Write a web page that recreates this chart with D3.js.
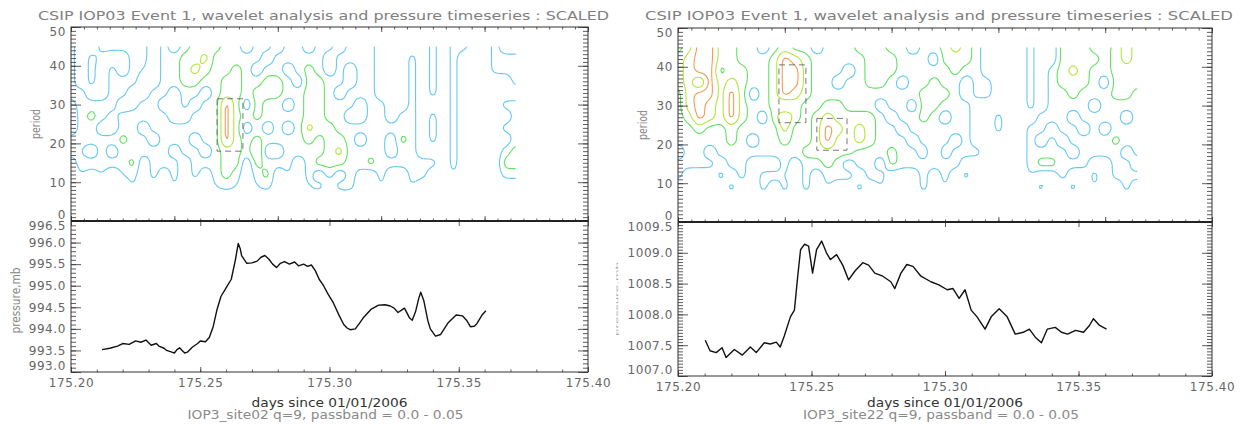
<!DOCTYPE html>
<html>
<head>
<meta charset="utf-8">
<script src="https://cdn.jsdelivr.net/npm/d3@7"></script>
<style>
  body { margin: 0; background: #fff; }
</style>
</head>
<body>
<div id="chart"></div>
<script>
// ---- wavelet grid axes ----
var waveTimes = [175.200,175.204,175.208,175.212,175.216,175.220,175.224,175.228,175.232,175.236,
  175.240,175.244,175.248,175.252,175.256,175.260,175.264,175.268,175.272,175.276,
  175.280,175.284,175.288,175.292,175.296,175.300,175.304,175.308,175.312,175.316,
  175.320,175.324,175.328,175.332,175.336,175.340,175.344,175.348,175.352,175.356,
  175.360,175.364,175.368,175.372,175.376];
var wavePeriods = [48,45,42,39,36,33,30,27,24,21,18,15,12,9,6];
var powerLevels = [2, 4, 6, 8];

// wavelet power, one string per time step (periods 48 -> 6), site02
var powerSite02 = [
  "333333100331000","000003333323200","003330353303100","331000330333210","330333310303000",
  "330033033533200","333330133335320","333200330330000","000003333033310","333333033333000",
  "003330003303320","335553303330000","355753033033300","557530333303000","553333333333320",
  "333355999955530","333555555555320","003333030330000","333035553575320","330355330303530",
  "003355333303000","333033030333200","333303333330000","003555557533320","333355555335030",
  "330033335555300","003330333575030","333003303333330","333333003033100","333333333335000",
  "000000333333320","000000003003000","000000033533000","003333333333320","000000000003300",
  "333333033303000","000000000000000","333333333333200","330000000000000","000000000000000",
  "000000000000000","333300000000000","003300303035300","003330333355300","003330333355300"
];
// wavelet power, site22
var powerSite22 = [
  "335553333303300","557777753333000","999939995333030","999999773303000","555355553330300",
  "555579995533030","333555553333300","333330333030000","303333303330330","335555553330300",
  "559999397533230","537997553330000","335555333353330","303333355553000","333333579955320",
  "033303557553300","333033355550300","553333357733030","555553355533300","355553033330320",
  "035533303355000","333303330333030","003333033033000","333335553303330","330355533353000",
  "555335303303320","775533333033000","555300333330300","333333000030000","000033000000000",
  "000000033000000","000000000000000","000000000000000","333333303333200","000000033035030",
  "000333330335000","555553333033300","555755303303030","555553330333000","335333033330320",
  "033303330330000","555555333533300","777555303303230","555553333330300","555553333330300"
];

// dashed boxes: [t0, t1, period0, period1]
var boxesSite02 = [[175.2565, 175.2665, 18.0, 31.5]];
var boxesSite22 = [[175.2378, 175.2479, 25.6, 40.5], [175.2520, 175.2633, 18.5, 26.7]];

// ---- pressure time series ----
var timeSite02 = [175.212,175.215,175.218,175.220,175.2225,175.225,175.227,175.229,175.231,175.233,
  175.234,175.236,175.237,175.239,175.240,175.241,175.242,175.243,175.244,175.245,
  175.247,175.249,175.250,175.252,175.2535,175.255,175.2565,175.258,175.260,175.262,
  175.2636,175.2647,175.2655,175.266,175.268,175.270,175.272,175.2735,175.275,175.2765,
  175.278,175.2795,175.281,175.2826,175.2845,175.2865,175.288,175.290,175.2915,175.293,
  175.2945,175.296,175.2977,175.2995,175.3015,175.3038,175.3055,175.3068,175.308,175.310,
  175.3115,175.313,175.316,175.319,175.3215,175.3235,175.325,175.3265,175.328,175.329,
  175.331,175.332,175.3333,175.3345,175.3353,175.3365,175.338,175.339,175.341,175.343,
  175.346,175.349,175.3515,175.353,175.3545,175.356,175.357,175.359,175.3605];
var presSite02 = [993.52,993.55,993.60,993.66,993.64,993.72,993.69,993.74,993.62,993.66,
  993.60,993.55,993.50,993.46,993.44,993.52,993.56,993.50,993.44,993.46,
  993.58,993.66,993.72,993.70,993.80,994.05,994.45,994.75,994.95,995.15,
  995.60,995.98,995.85,995.70,995.52,995.53,995.57,995.66,995.70,995.62,
  995.50,995.42,995.52,995.56,995.50,995.55,995.46,995.50,995.45,995.48,
  995.35,995.15,995.00,994.80,994.60,994.30,994.10,994.02,993.98,994.00,
  994.12,994.25,994.45,994.55,994.56,994.53,994.48,994.38,994.44,994.48,
  994.25,994.20,994.40,994.70,994.85,994.65,994.20,994.00,993.83,993.87,
  994.15,994.32,994.30,994.20,994.05,994.06,994.12,994.32,994.42];

var timeSite22 = [175.2102,175.2120,175.2143,175.2165,175.2180,175.2211,175.2241,175.2271,175.2293,175.2323,
  175.2346,175.2368,175.2383,175.2398,175.2421,175.2436,175.2448,175.2459,175.2474,175.2489,
  175.2504,175.2519,175.2538,175.2556,175.2571,175.2594,175.2617,175.2639,175.2662,175.2692,
  175.2714,175.2737,175.2767,175.2797,175.2812,175.2835,175.2857,175.2880,175.2910,175.2947,
  175.2977,175.3008,175.3030,175.3053,175.3075,175.3098,175.3120,175.3150,175.3173,175.3203,
  175.3233,175.3263,175.3293,175.3316,175.3338,175.3361,175.3383,175.3413,175.3436,175.3459,
  175.3489,175.3519,175.3541,175.3556,175.3579,175.3605];
var presSite22 = [1007.58,1007.41,1007.38,1007.46,1007.30,1007.43,1007.34,1007.47,1007.38,1007.54,
  1007.52,1007.55,1007.47,1007.65,1007.96,1008.07,1008.60,1009.05,1009.14,1009.11,
  1008.67,1009.05,1009.19,1009.00,1008.89,1008.97,1008.80,1008.56,1008.70,1008.84,
  1008.80,1008.67,1008.62,1008.53,1008.42,1008.67,1008.81,1008.78,1008.62,1008.53,
  1008.48,1008.40,1008.42,1008.26,1008.40,1008.07,1007.96,1007.76,1007.96,1008.09,
  1007.96,1007.68,1007.71,1007.76,1007.63,1007.54,1007.76,1007.79,1007.71,1007.68,
  1007.74,1007.71,1007.82,1007.93,1007.82,1007.76];

// ---- ticks and labels ----
var dayTicks = [175.20, 175.25, 175.30, 175.35, 175.40];
var waveDayTicks = [175.20, 175.24, 175.28, 175.32, 175.36, 175.40];
var periodTicks = [0, 10, 20, 30, 40, 50];
var presTicksSite02 = [993.0, 993.5, 994.0, 994.5, 995.0, 995.5, 996.0, 996.5];
var presTicksSite22 = [1007.0, 1007.5, 1008.0, 1008.5, 1009.0, 1009.5];
var titleText = "CSIP IOP03 Event 1, wavelet analysis and pressure timeseries : SCALED";
var subSite02 = "IOP3_site02 q=9, passband = 0.0 - 0.05";
var subSite22 = "IOP3_site22 q=9, passband = 0.0 - 0.05";

// ---- layout ----
var FONT = "DejaVu Sans, Verdana, sans-serif";
var levelColors = ['#66c9f3', '#62e262', '#b5e63c', '#f59b55'];
var waveEnd = 175.372, waveTop = 45;
var up = 4;   // grid refinement before smoothing

var svg = d3.select('#chart').append('svg')
    .attr('width', 1243)
    .attr('height', 430)
    .style('font-family', FONT);

var panels = [
  {x0: 71, x1: 588, yTop: 27, yMid: 221, yBot: 372, power: powerSite02, boxes: boxesSite02,
   t: timeSite02, p: presSite02, pTicks: presTicksSite02, sub: subSite02, faintLabel: false},
  {x0: 678, x1: 1212, yTop: 28, yMid: 222, yBot: 376, power: powerSite22, boxes: boxesSite22,
   t: timeSite22, p: presSite22, pTicks: presTicksSite22, sub: subSite22, faintLabel: true}
];

function styleAxis(a) {
  a.select('.domain').remove();
  a.selectAll('line').attr('stroke', '#333').attr('stroke-width', 0.8);
  a.selectAll('text').attr('fill', '#666').attr('font-size', 12).attr('letter-spacing', 0.6)
      .attr('font-family', FONT);
  return a;
}
// end labels of an axis sit inside the frame, as in the original plot
function endDy(ext) {
  return function (d) { return d === ext[0] ? '-0.22em' : (d === ext[1] ? '0.7em' : '0.32em'); };
}

panels.forEach(function (P, k) {
  var g = svg.append('g');
  var x = d3.scaleLinear().domain([175.2, 175.4]).range([P.x0, P.x1]);
  var yW = d3.scaleLinear().domain([0, 50]).range([P.yMid, P.yTop]);
  var pExt = d3.extent(P.pTicks);
  var yP = d3.scaleLinear().domain(pExt).range([P.yBot, P.yMid]);

  svg.append('clipPath').attr('id', 'wclip' + k).append('rect')
      .attr('x', x(175.2)).attr('y', yW(waveTop))
      .attr('width', x(waveEnd) - x(175.2)).attr('height', yW(0) - yW(waveTop));
  svg.append('clipPath').attr('id', 'pclip' + k).append('rect')
      .attr('x', P.x0).attr('y', P.yMid)
      .attr('width', P.x1 - P.x0).attr('height', P.yBot - P.yMid);

  // contours of the power grid (refined and lightly smoothed by d3.blur2)
  var n = P.power.length, m = wavePeriods.length;
  var N = n * up, M = m * up;
  var fine = new Float64Array(N * M);
  for (var j = 0; j < M; j++)
    for (var i = 0; i < N; i++) fine[j * N + i] = +P.power[Math.floor(i / up)][Math.floor(j / up)];
  if (d3.blur2) d3.blur2({data: fine, width: N}, 1);
  var cs = d3.contours().size([N, M]).thresholds(powerLevels)(Array.from(fine));
  var tx = d3.scaleLinear().domain([0.5 * up, (n - 0.5) * up]).range([x(waveTimes[0]), x(waveTimes[n - 1])]);
  var ty = d3.scaleLinear().domain([0.5 * up, (m - 0.5) * up]).range([yW(wavePeriods[0]), yW(wavePeriods[m - 1])]);
  var ringLine = d3.line().curve(d3.curveBasisClosed);

  g.append('g').attr('clip-path', 'url(#wclip' + k + ')')
    .selectAll('path').data(cs).enter().append('path')
      .attr('d', function (c) {
        return c.coordinates.map(function (poly) {
          return poly.map(function (ring) {
            return ringLine(ring.slice(0, -1).map(function (pt) { return [tx(pt[0]), ty(pt[1])]; }));
          }).join('');
        }).join('');
      })
      .attr('fill', 'none')
      .attr('stroke', function (c, i) { return levelColors[i]; })
      .attr('stroke-width', 1.1);

  // dashed boxes
  g.selectAll('rect.box').data(P.boxes).enter().append('rect')
      .attr('class', 'box')
      .attr('x', function (d) { return x(d[0]); })
      .attr('y', function (d) { return yW(d[3]); })
      .attr('width', function (d) { return x(d[1]) - x(d[0]); })
      .attr('height', function (d) { return yW(d[2]) - yW(d[3]); })
      .attr('fill', 'none').attr('stroke', '#555').attr('stroke-width', 0.8)
      .attr('stroke-dasharray', '6,4');

  // pressure line
  var pl = d3.line().x(function (d, i) { return x(P.t[i]); }).y(function (d) { return yP(d); });
  g.append('path').datum(P.p)
      .attr('clip-path', 'url(#pclip' + k + ')')
      .attr('d', pl).attr('fill', 'none').attr('stroke', '#111').attr('stroke-width', 1.4)
      .attr('stroke-linejoin', 'round');

  // ---- axes, top plot ----
  var ya = g.append('g').attr('transform', 'translate(' + P.x0 + ',0)')
      .call(d3.axisLeft(yW).tickValues(periodTicks).tickSize(-10).tickPadding(5).tickFormat(d3.format('d')));
  styleAxis(ya);
  ya.selectAll('text').attr('dy', endDy([0, 50]));
  styleAxis(g.append('g').attr('transform', 'translate(' + P.x0 + ',0)')
      .call(d3.axisLeft(yW).tickValues(yW.ticks(50)).tickSize(-5).tickFormat('')));
  styleAxis(g.append('g').attr('transform', 'translate(' + P.x1 + ',0)')
      .call(d3.axisRight(yW).tickValues(periodTicks).tickSize(-10).tickFormat('')));
  styleAxis(g.append('g').attr('transform', 'translate(' + P.x1 + ',0)')
      .call(d3.axisRight(yW).tickValues(yW.ticks(50)).tickSize(-5).tickFormat('')));
  [[P.yTop, d3.axisTop], [P.yMid, d3.axisBottom]].forEach(function (s) {
    styleAxis(g.append('g').attr('transform', 'translate(0,' + s[0] + ')')
        .call(s[1](x).tickValues(waveDayTicks).tickSize(-5).tickFormat('')));
    styleAxis(g.append('g').attr('transform', 'translate(0,' + s[0] + ')')
        .call(s[1](x).tickValues(x.ticks(40)).tickSize(-2.5).tickFormat('')));
  });

  // ---- axes, bottom plot ----
  var pa = g.append('g').attr('transform', 'translate(' + P.x0 + ',0)')
      .call(d3.axisLeft(yP).tickValues(P.pTicks).tickSize(-10).tickPadding(5).tickFormat(d3.format('.1f')));
  styleAxis(pa);
  pa.selectAll('text').attr('dy', endDy(pExt));
  styleAxis(g.append('g').attr('transform', 'translate(' + P.x0 + ',0)')
      .call(d3.axisLeft(yP).tickValues(yP.ticks(40)).tickSize(-5).tickFormat('')));
  styleAxis(g.append('g').attr('transform', 'translate(' + P.x1 + ',0)')
      .call(d3.axisRight(yP).tickValues(P.pTicks).tickSize(-10).tickFormat('')));
  styleAxis(g.append('g').attr('transform', 'translate(' + P.x1 + ',0)')
      .call(d3.axisRight(yP).tickValues(yP.ticks(40)).tickSize(-5).tickFormat('')));
  styleAxis(g.append('g').attr('transform', 'translate(0,' + P.yBot + ')')
      .call(d3.axisBottom(x).tickValues(dayTicks).tickSize(-5).tickPadding(6).tickFormat(d3.format('.2f'))));
  styleAxis(g.append('g').attr('transform', 'translate(0,' + P.yBot + ')')
      .call(d3.axisBottom(x).tickValues(x.ticks(20)).tickSize(-2.5).tickFormat('')));
  styleAxis(g.append('g').attr('transform', 'translate(0,' + P.yMid + ')')
      .call(d3.axisTop(x).tickValues(dayTicks).tickSize(-5).tickFormat('')));

  // frames
  g.append('rect').attr('x', P.x0).attr('y', P.yTop).attr('width', P.x1 - P.x0).attr('height', P.yBot - P.yTop)
      .attr('fill', 'none').attr('stroke', '#333').attr('stroke-width', 1);
  g.append('line').attr('x1', P.x0).attr('x2', P.x1).attr('y1', P.yMid).attr('y2', P.yMid)
      .attr('stroke', '#222').attr('stroke-width', 2);

  // texts
  g.append('text').attr('x', P.x0 - 33).attr('y', 20)
      .attr('textLength', P.x1 - P.x0 + 54).attr('lengthAdjust', 'spacingAndGlyphs')
      .attr('font-size', 13).attr('fill', '#808080').text(titleText);
  g.append('text').attr('transform', 'translate(' + (P.x0 - 31) + ',' + yW(25) + ') rotate(-90)')
      .attr('text-anchor', 'middle').attr('font-size', 12).attr('fill', '#888')
      .attr('textLength', 30).attr('lengthAdjust', 'spacingAndGlyphs').text('period');
  if (!P.faintLabel) {
    g.append('text').attr('transform', 'translate(' + (P.x0 - 51) + ',' + ((P.yMid + P.yBot) / 2 + 4) + ') rotate(-90)')
        .attr('text-anchor', 'middle').attr('font-size', 12).attr('fill', '#888')
        .attr('textLength', 66).attr('lengthAdjust', 'spacingAndGlyphs').text('pressure,mb');
  } else {
    g.append('text').attr('transform', 'translate(' + (P.x0 - 60) + ',' + ((P.yMid + P.yBot) / 2) + ') rotate(-90)')
        .attr('text-anchor', 'middle').attr('font-size', 3).attr('fill', '#999')
        .attr('textLength', 74).attr('lengthAdjust', 'spacingAndGlyphs').text('pressure,mb');
  }
  g.append('text').attr('x', (P.x0 + P.x1) / 2).attr('y', 407)
      .attr('text-anchor', 'middle').attr('font-size', 13).attr('fill', '#333')
      .attr('textLength', 156).attr('lengthAdjust', 'spacingAndGlyphs').text('days since 01/01/2006');
  g.append('text').attr('x', (P.x0 + P.x1) / 2 - 4).attr('y', 419)
      .attr('text-anchor', 'middle').attr('font-size', 12).attr('fill', '#8a8a8a')
      .attr('textLength', 276).attr('lengthAdjust', 'spacingAndGlyphs').text(P.sub);
});
</script>
</body>
</html>
